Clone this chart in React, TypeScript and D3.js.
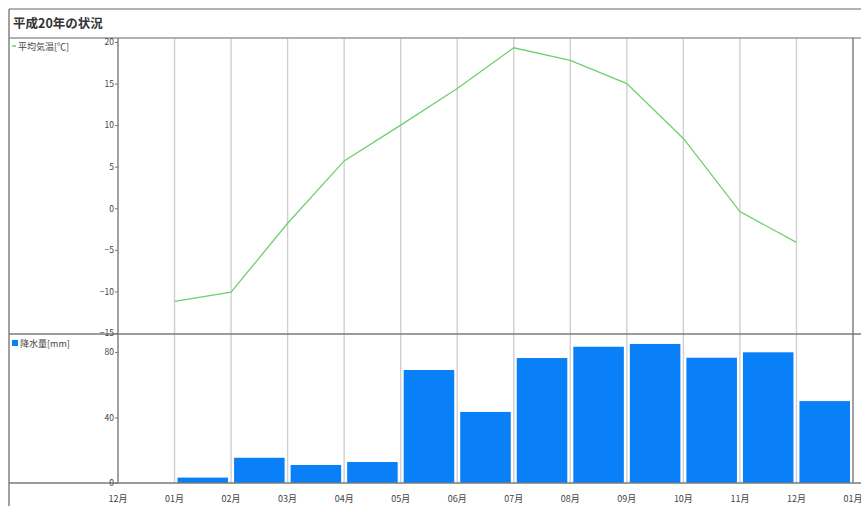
import React, { useEffect, useRef } from 'react';
import * as d3 from 'd3';

const title = '平成20年の状況';
const monthLabels = ['12月', '01月', '02月', '03月', '04月', '05月', '06月', '07月', '08月', '09月', '10月', '11月', '12月', '01月'];
// values for 01月..12月 (index 1..12 on the month axis)
const temperature = [-11.2, -10.1, -1.8, 5.7, 10.0, 14.4, 19.3, 17.8, 15.0, 8.4, -0.4, -4.1];
const precipitation = [3.3, 15.4, 11, 12.8, 69, 43.4, 76.3, 83.2, 84.9, 76.5, 79.8, 50];
const tempTicks = [20, 15, 10, 5, 0, -5, -10, -15];
const rainTicks = [80, 40, 0];
const tempLegend = '平均気温[℃]';
const rainLegend = '降水量[mm]';

const W = 861;
const H = 506;
const FONT = '"Noto Sans CJK JP", "Noto Sans", sans-serif';

export default function App() {
  const svgRef = useRef<SVGSVGElement>(null);

  useEffect(() => {
    if (!svgRef.current) return;
    const svg = d3.select(svgRef.current);
    svg.selectAll('*').remove();

    const left = 9, axisX = 118, right = 853;
    const top = 9, titleLine = 38, divider = 334, baseline = 483;

    const x = d3.scaleLinear().domain([0, monthLabels.length - 1]).range([axisX, right]);
    const yT = d3.scaleLinear().domain([-15, 20]).range([333, 42]);
    const yR = d3.scaleLinear().domain([0, 90]).range([baseline, 335.6]);

    svg.append('rect').attr('width', W).attr('height', H).attr('fill', '#fff');

    // vertical grid
    svg.append('g')
      .selectAll('line')
      .data(d3.range(1, monthLabels.length - 1))
      .enter()
      .append('line')
      .attr('x1', d => x(d)).attr('x2', d => x(d))
      .attr('y1', titleLine).attr('y2', baseline)
      .attr('stroke', '#d0d0d0').attr('stroke-width', 1.4);

    // bars
    svg.append('g')
      .selectAll('rect')
      .data(precipitation)
      .enter()
      .append('rect')
      .attr('x', (_, i) => x(i + 1) + 3)
      .attr('width', (_, i) => x(i + 2) - x(i + 1) - 6)
      .attr('y', d => yR(d))
      .attr('height', d => baseline - yR(d))
      .attr('fill', '#0a80f8');

    // temperature line
    const line = d3.line<number>()
      .x((_, i) => x(i + 1))
      .y(d => yT(d));
    svg.append('path')
      .datum(temperature)
      .attr('d', line)
      .attr('fill', 'none')
      .attr('stroke', '#6fcf6f')
      .attr('stroke-width', 1.3);

    // frame
    const frame = svg.append('g').attr('stroke', '#7a7a7a').attr('stroke-width', 1.4);
    frame.append('line').attr('x1', left).attr('x2', W).attr('y1', top).attr('y2', top).attr('stroke', '#999');
    frame.append('line').attr('x1', left).attr('x2', W).attr('y1', titleLine).attr('y2', titleLine).attr('stroke', '#999');
    frame.append('line').attr('x1', left).attr('x2', W).attr('y1', divider).attr('y2', divider);
    frame.append('line').attr('x1', left).attr('x2', W).attr('y1', baseline).attr('y2', baseline);
    frame.append('line').attr('x1', left).attr('x2', left).attr('y1', top).attr('y2', H);
    frame.append('line').attr('x1', axisX).attr('x2', axisX).attr('y1', titleLine).attr('y2', baseline);
    frame.append('line').attr('x1', right).attr('x2', right).attr('y1', titleLine).attr('y2', baseline);

    // axes
    const tAxis = svg.append('g')
      .attr('transform', `translate(${axisX},0)`)
      .call(d3.axisLeft(yT).tickValues(tempTicks).tickSize(3).tickPadding(1));
    const rAxis = svg.append('g')
      .attr('transform', `translate(${axisX},0)`)
      .call(d3.axisLeft(yR).tickValues(rainTicks).tickSize(3).tickPadding(1));
    [tAxis, rAxis].forEach(g => {
      g.select('.domain').remove();
      g.selectAll('line').attr('stroke', '#777');
      g.selectAll('text').attr('font-size', 8.5).attr('font-family', FONT).attr('fill', '#444');
    });

    // month labels
    svg.append('g')
      .selectAll('text')
      .data(monthLabels)
      .enter()
      .append('text')
      .attr('x', (_, i) => x(i))
      .attr('y', 502)
      .attr('text-anchor', 'middle')
      .attr('font-size', 9)
      .attr('font-family', FONT)
      .attr('fill', '#444')
      .text(d => d);

    // title
    svg.append('text')
      .attr('x', 13).attr('y', 28)
      .attr('font-size', 12.5).attr('font-weight', 'bold')
      .attr('font-family', FONT).attr('fill', '#333')
      .text(title);

    // legends
    svg.append('line').attr('x1', 12).attr('x2', 16).attr('y1', 46).attr('y2', 46).attr('stroke', '#6fcf6f').attr('stroke-width', 1.5);
    svg.append('text').attr('x', 18).attr('y', 49.5)
      .attr('font-size', 9).attr('font-family', FONT).attr('fill', '#444').text(tempLegend);
    svg.append('rect').attr('x', 12).attr('y', 340).attr('width', 6).attr('height', 6).attr('fill', '#0a80f8');
    svg.append('text').attr('x', 20).attr('y', 346.5)
      .attr('font-size', 9).attr('font-family', FONT).attr('fill', '#444').text(rainLegend);
  }, []);

  return (
    <svg ref={svgRef} width={W} height={H}
      style={{ position: 'absolute', left: 0, top: 0, display: 'block' }} />
  );
}
